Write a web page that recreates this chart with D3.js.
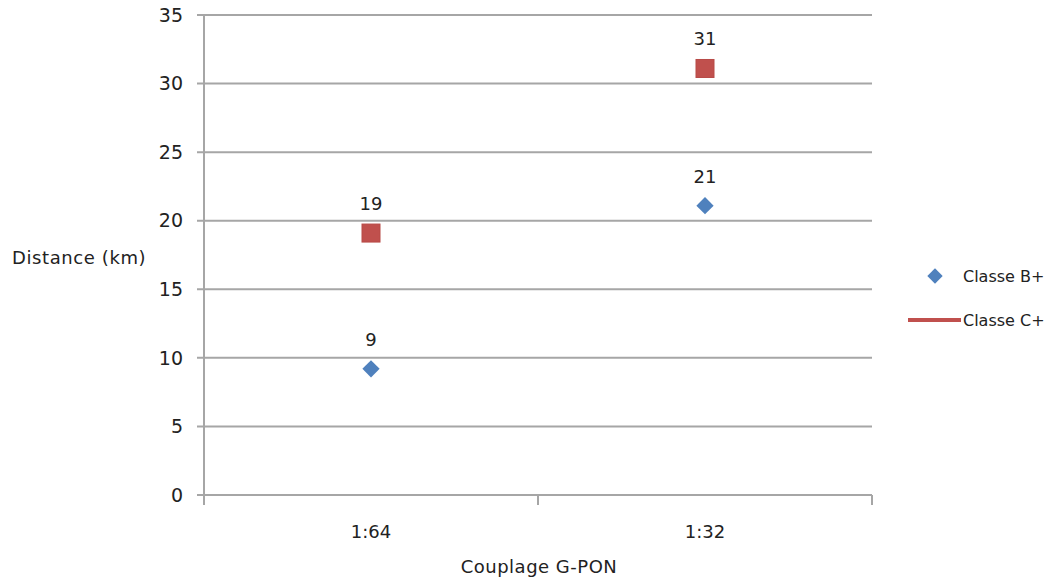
<!DOCTYPE html>
<meta charset="utf-8">
<html>
<head>
<script src="https://d3js.org/d3.v7.min.js"></script>
<style>
  body { margin: 0; background: #fff; }
  text { font-family: "DejaVu Sans", sans-serif; fill: #222; }
</style>
</head>
<body>
<div id="chart"></div>
<script>
const categories = ["1:64", "1:32"];
const classeB = [9.2, 21.1];
const classeC = [19.1, 31.1];
const labelsB = ["9", "21"];
const labelsC = ["19", "31"];
const yTicks = [0, 5, 10, 15, 20, 25, 30, 35];

const W = 1055, H = 577;
const m = {top: 15, right: 183, bottom: 82, left: 204};

const svg = d3.select("#chart").append("svg")
    .attr("width", W).attr("height", H);

const x = d3.scaleBand().domain(categories).range([m.left, W - m.right]);
const y = d3.scaleLinear().domain([0, 35]).range([H - m.bottom, m.top]);

// gridlines
svg.append("g").selectAll("line").data(yTicks).join("line")
    .attr("x1", m.left - 7).attr("x2", W - m.right)
    .attr("y1", d => y(d)).attr("y2", d => y(d))
    .attr("stroke", "#a6a6a6").attr("stroke-width", 2);

// y axis line
svg.append("line")
    .attr("x1", m.left).attr("x2", m.left)
    .attr("y1", m.top).attr("y2", y(0) + 10)
    .attr("stroke", "#a6a6a6").attr("stroke-width", 2);

// x tick marks at band edges
const edges = [m.left, x(categories[1]), W - m.right];
svg.append("g").selectAll("line").data(edges).join("line")
    .attr("x1", d => d).attr("x2", d => d)
    .attr("y1", y(0)).attr("y2", y(0) + 10)
    .attr("stroke", "#a6a6a6").attr("stroke-width", 2);

// y tick labels
svg.append("g").selectAll("text").data(yTicks).join("text")
    .attr("x", m.left - 21).attr("y", d => y(d))
    .attr("dy", "0.35em").attr("text-anchor", "end")
    .style("font-size", "19px").text(d => d);

// x tick labels
svg.append("g").selectAll("text").data(categories).join("text")
    .attr("x", d => x(d) + x.bandwidth() / 2).attr("y", y(0) + 43)
    .attr("text-anchor", "middle").style("font-size", "18px").text(d => d);

// axis titles
svg.append("text").attr("x", 539).attr("y", 573)
    .attr("text-anchor", "middle").style("font-size", "18px")
    .style("letter-spacing", "0.5px").text("Couplage G-PON");
svg.append("text").attr("x", 12).attr("y", 264)
    .style("font-size", "18px").style("letter-spacing", "0.6px")
    .text("Distance (km)");

const cx = d => x(d) + x.bandwidth() / 2;

// Classe C+ squares
svg.append("g").selectAll("rect").data(categories).join("rect")
    .attr("x", (d) => cx(d) - 9).attr("y", (d, i) => y(classeC[i]) - 9)
    .attr("width", 18).attr("height", 18)
    .attr("fill", "#c0504d").attr("stroke", "#b84a47");

// Classe B+ diamonds
const diamond = d3.symbol().type(d3.symbolDiamond2).size(190);
svg.append("g").selectAll("path").data(categories).join("path")
    .attr("d", diamond)
    .attr("transform", (d, i) => `translate(${cx(d)},${y(classeB[i])})`)
    .attr("fill", "#4f81bd");

// data labels
svg.append("g").selectAll("text").data(categories).join("text")
    .attr("x", cx).attr("y", (d, i) => y(classeC[i]) - 23)
    .attr("text-anchor", "middle").style("font-size", "18px")
    .text((d, i) => labelsC[i]);
svg.append("g").selectAll("text").data(categories).join("text")
    .attr("x", cx).attr("y", (d, i) => y(classeB[i]) - 23)
    .attr("text-anchor", "middle").style("font-size", "18px")
    .text((d, i) => labelsB[i]);

// legend
svg.append("path").attr("d", d3.symbol().type(d3.symbolDiamond2).size(150))
    .attr("transform", "translate(935,276)").attr("fill", "#4f81bd");
svg.append("text").attr("x", 963).attr("y", 282)
    .style("font-size", "16px").text("Classe B+");
svg.append("line").attr("x1", 908).attr("x2", 961)
    .attr("y1", 320).attr("y2", 320)
    .attr("stroke", "#c0504d").attr("stroke-width", 4);
svg.append("text").attr("x", 963).attr("y", 326)
    .style("font-size", "16px").text("Classe C+");
</script>
</body>
</html>
